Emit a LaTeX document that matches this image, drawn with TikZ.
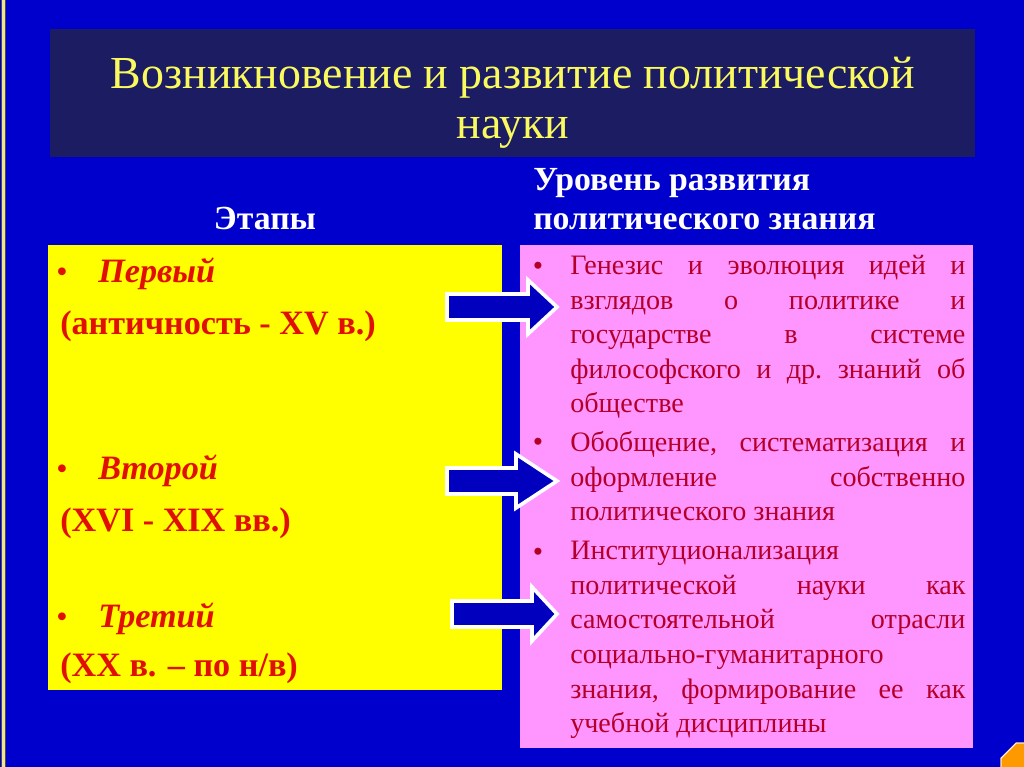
\documentclass[tikz,border=0pt]{standalone}
\usepackage{fontspec}
\setmainfont{Liberation Serif}
\usepackage{xcolor}
\usetikzlibrary{calc,shapes.geometric}

\definecolor{slideblue}{RGB}{0,0,205}
\definecolor{titlenavy}{RGB}{28,28,98}
\definecolor{titleyellow}{RGB}{250,250,95}
\definecolor{stageyellow}{RGB}{255,255,0}
\definecolor{levelpink}{RGB}{255,150,255}
\definecolor{stagered}{RGB}{225,15,0}
\definecolor{levelred}{RGB}{180,0,40}
\definecolor{arrowblue}{RGB}{0,0,190}
\definecolor{cornerorange}{RGB}{255,153,0}
\definecolor{edgegold}{RGB}{240,230,150}

\tikzset{
  heading/.style={text=white, font=\fontsize{24}{27.5}\selectfont\bfseries, align=left, inner sep=0pt},
  stagename/.style={text=stagered, font=\fontsize{24.3}{29}\selectfont\bfseries\itshape, anchor=west, inner sep=0pt},
  stagedate/.style={text=stagered, font=\fontsize{24.3}{29}\selectfont\bfseries, anchor=west, inner sep=0pt},
  stagedot/.style={text=stagered, font=\fontsize{23}{28}\selectfont, inner sep=0pt},
  levelitem/.style={text=levelred, font=\fontsize{20}{24.6}\selectfont\frenchspacing, text width=281pt,
    align=justify, anchor=north west, inner sep=0pt},
  leveldot/.style={text=levelred, font=\fontsize{21}{24}\selectfont, inner sep=0pt},
  blockarrow/.style={fill=arrowblue, draw=white, line width=2.6pt, line join=miter}
}

% #1 left end, #2 middle height, #3 start of the head
\newcommand{\stagearrow}[3]{%
  \draw[blockarrow] (#1,#2-13) -- (#3,#2-13) -- (#3,#2-27) -- (557,#2)
    -- (#3,#2+27) -- (#3,#2+13) -- (#1,#2+13) -- cycle;
}

\begin{document}
\begin{tikzpicture}[x=0.025cm,y=-0.025cm]
\useasboundingbox (0,0) rectangle (1024,767);
\fill[slideblue] (0,0) rectangle (1024,767);
\fill[edgegold] (2,0) rectangle (5,767);
\draw[black!70,line width=0.4pt] (1.5,0) -- (1.5,767) (5.5,0) -- (5.5,767);

\fill[titlenavy] (50,29) rectangle (975,157);
\node[text=titleyellow, font=\fontsize{32.6}{35.5}\selectfont, align=center] (title) at (513,103)
  {Возникновение и развитие политической\\науки};

\node[heading] (stagehead) at (265,218) {Этапы};
\node[heading, anchor=west] (levelhead) at (533,199) {Уровень развития\\политического знания};

\fill[stageyellow] (48,245) rectangle (502,690);
\fill[levelpink] (520,245) rectangle (973,748);

\node[stagedot] (dot1) at (62,275) {•};
\node[stagename] (first) at (98,274) {Первый};
\node[stagedate] (firstdate) at (60,326) {(античность - XV в.)};
\node[stagedot] (dot2) at (62,472) {•};
\node[stagename] (second) at (98,471) {Второй};
\node[stagedate] (seconddate) at (60,523) {(XVI - XIX вв.)};
\node[stagedot] (dot3) at (62,620) {•};
\node[stagename] (third) at (98,619) {Третий};
\node[stagedate] (thirddate) at (60,668) {(XX в. – по н/в)};

\node[leveldot] (ldot1) at (538,269) {•};
\node[levelitem] (genesis) at (570,255)
  {Генезис и эволюция идей и\linebreak взглядов о политике и\linebreak государстве в системе\linebreak
   философского и др. знаний об\linebreak обществе};
\node[leveldot] (ldot2) at (538,445) {•};
\node[levelitem] (system) at (570,431)
  {Обобщение, систематизация и\linebreak оформление собственно\linebreak политического знания};
\node[leveldot] (ldot3) at (538,555) {•};
\node[levelitem] (institution) at (570,541)
  {Институционализация\linebreak политической науки как\linebreak самостоятельной отрасли\linebreak
   социально-гуманитарного\linebreak знания, формирование ее как\linebreak учебной дисциплины};

\stagearrow{447}{307}{528}
\stagearrow{447}{481}{516}
\stagearrow{452}{614}{532}

\begin{scope}
\clip (0,0) rectangle (1024,767);
\node[regular polygon, regular polygon sides=8, minimum size=40, fill=cornerorange,
  draw=white!80!cornerorange, line width=0.8pt, inner sep=0pt] (corner) at (1027,769) {};
\end{scope}
\end{tikzpicture}
\end{document}
